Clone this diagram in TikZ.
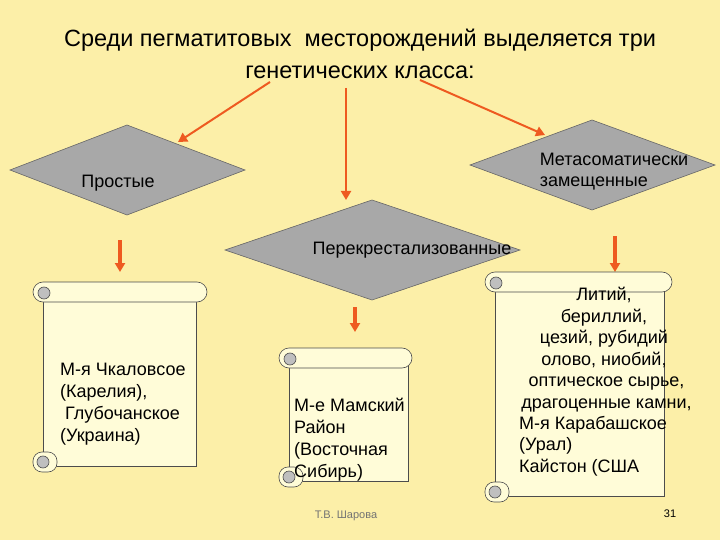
\documentclass[tikz,border=0pt]{standalone}
\usepackage{fontspec}
\setmainfont{Liberation Sans}
\usetikzlibrary{arrows.meta}
\definecolor{bg}{HTML}{FCEFA8}
\definecolor{dia}{HTML}{A8A8A8}
\definecolor{arr}{HTML}{EE5A20}
\definecolor{paper}{HTML}{FFFCD8}
\tikzset{
 dia/.style={draw=black!60,fill=dia,line width=0.6pt},
 oarr/.style={draw=arr,line width=2pt,-{Triangle[length=9pt,width=10pt]}},
 scroll/.style={draw=black!70,fill=paper,line width=0.6pt},
 curl/.style={draw=black!70,fill=black!25,line width=0.6pt},
 txt/.style={font=\fontsize{18pt}{22pt}\selectfont,align=left,anchor=north west,inner sep=0pt},
 dl/.style={font=\fontsize{18pt}{21pt}\selectfont,align=left}
}
\newcommand{\scrollat}[5]{% x1 y1 x2 y2 bodyright
 \draw[scroll] (#1+10,#2+10) rectangle (#5,#4-6);
 \draw[scroll,rounded corners=10pt] (#1,#2) rectangle (#3,#2+20);
 \draw[curl] (#1+11,#2+11) circle[radius=6];
 \draw[scroll,rounded corners=9pt] (#1,#4-20) rectangle (#1+24,#4);
 \draw[curl] (#1+10,#4-10) circle[radius=6];
}
\begin{document}
\begin{tikzpicture}[x=1pt,y=-1pt]
\fill[bg] (0,0) rectangle (720,540);
\useasboundingbox (0,0) rectangle (720,540);
\node (t1) at (360,40) {\fontsize{23.5pt}{26pt}\selectfont Среди пегматитовых\ \ месторождений выделяется три};
\node (t2) at (360,72) {\fontsize{23.5pt}{26pt}\selectfont генетических класса:};
\draw[dia] (10,170) -- (127,125) -- (245,170) -- (127,215) -- cycle;
\node[dl] (d1) at (118,183) {Простые};
\draw[dia] (470,165) -- (592,120) -- (715,165) -- (592,210) -- cycle;
\node[dl] (d3) at (614,172) {Метасоматически\\замещенные};
\draw[dia] (225,250) -- (372,200) -- (520,250) -- (372,300) -- cycle;
\node[dl] (d2) at (412,250) {Перекрестализованные};
\coordinate (a1) at (270,82); \coordinate (b1) at (178,142);
\coordinate (a2) at (346,88); \coordinate (b2) at (346,200);
\coordinate (a3) at (420,80); \coordinate (b3) at (545,135);
\draw[oarr] (a1) -- (b1);
\draw[oarr] (a2) -- (b2);
\draw[oarr] (a3) -- (b3);
\coordinate (c1) at (120,240); \coordinate (e1) at (120,272);
\coordinate (c2) at (355,307); \coordinate (e2) at (355,332);
\coordinate (c3) at (615,236); \coordinate (e3) at (615,272);
\draw[oarr,line width=4pt] (c1) -- (e1);
\draw[oarr,line width=4pt] (c2) -- (e2);
\draw[oarr,line width=4pt] (c3) -- (e3);
\scrollat{33}{282}{207}{472}{196}
\scrollat{279}{348}{412}{487}{408}
\scrollat{485}{272}{672}{502}{664}
\node[txt] (s1) at (60,363) {М-я Чкаловсое\\(Карелия),\\\ Глубочанское\\(Украина)};
\node[txt] (s2) at (294,398) {М-е Мамский\\Район\\(Восточная\\Сибирь)};
\node[txt,align=center,anchor=north,font=\fontsize{18pt}{21.5pt}\selectfont] (s3) at (604,287) {Литий,\\бериллий,\\цезий, рубидий\\олово, ниобий,\\\ оптическое сырье,\\\ драгоценные камни,};
\node[txt,font=\fontsize{18pt}{21.5pt}\selectfont] (s4) at (519,416) {М-я Карабашское\\(Урал)\\Кайстон (США};
\node[font=\fontsize{11pt}{12pt}\selectfont,text=black!55] (f1) at (346,516) {Т.В. Шарова};
\node[font=\fontsize{11pt}{12pt}\selectfont] (f2) at (670,514) {31};
\end{tikzpicture}
\end{document}
